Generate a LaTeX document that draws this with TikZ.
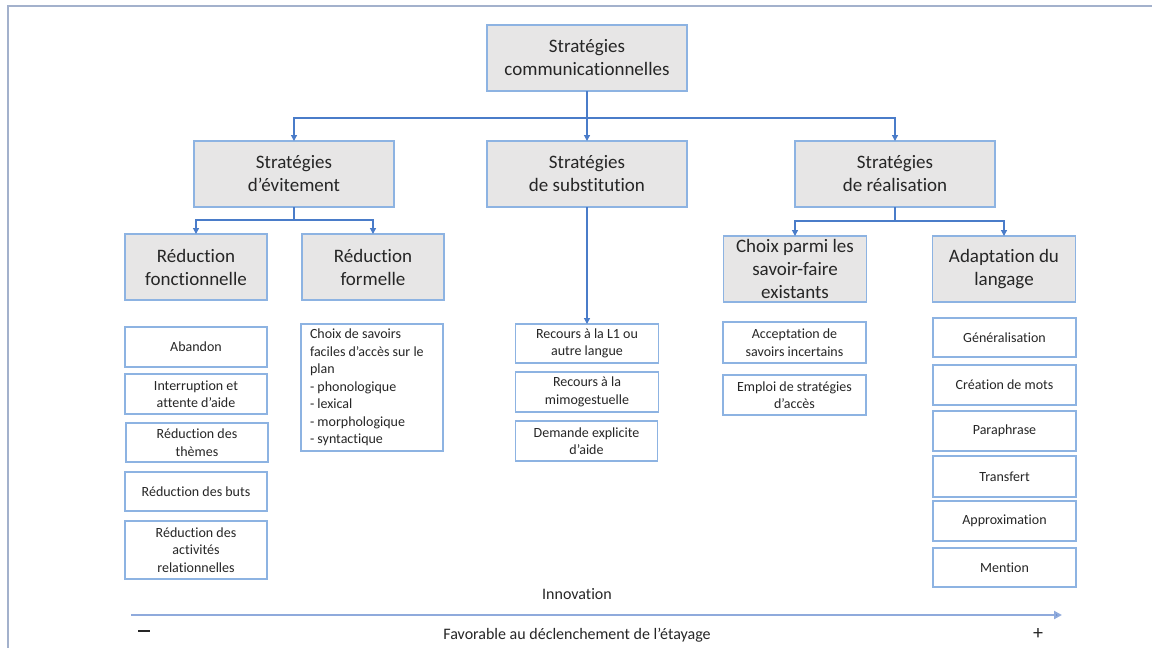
\documentclass[tikz,border=0pt]{standalone}
\usepackage{fontspec}
\setmainfont{Carlito}[Ligatures={NoCommon}]
\usetikzlibrary{arrows.meta}
\definecolor{boxline}{HTML}{8DB3E2}
\definecolor{boxfill}{HTML}{E7E6E6}
\definecolor{conncol}{HTML}{4A7CC9}
\definecolor{axiscol}{HTML}{8FAADC}
\definecolor{framecol}{HTML}{A3B1CC}
\definecolor{txt}{HTML}{262626}
\tikzset{
  bigbox/.style={draw=boxline, fill=boxfill, line width=1.3pt, inner sep=0pt, outer sep=0pt, align=center, text=txt, font=\fontsize{19}{23}\selectfont},
  smallbox/.style={draw=boxline, fill=white, line width=1.3pt, inner sep=0pt, outer sep=0pt, align=center, text=txt, font=\fontsize{14}{17.5}\selectfont},
  conn/.style={draw=conncol, line width=1.3pt},
  arr/.style={conn, -{Triangle[length=6pt,width=6pt]}},
  lbl/.style={text=txt, inner sep=0pt, font=\fontsize{16}{19}\selectfont}
}
\begin{document}
\begin{tikzpicture}[x=1pt,y=-1pt]
\useasboundingbox (0,0) rectangle (1152,648);
\fill[white] (0,0) rectangle (1152,648);
\draw[framecol, line width=2pt] (8,648) -- (8,6) -- (1152,6);

% level 1
\node[bigbox, minimum width=200, minimum height=66] (top) at (587,58) {Stratégies\\communicationnelles};
% level 2
\node[bigbox, minimum width=200, minimum height=66] (evit) at (294,174) {Stratégies\\d’évitement};
\node[bigbox, minimum width=200, minimum height=66] (subst) at (587,174) {Stratégies\\de substitution};
\node[bigbox, minimum width=200, minimum height=66] (real) at (895,174) {Stratégies\\de réalisation};
% level 3
\node[bigbox, minimum width=142, minimum height=66] (rfonc) at (196,267) {Réduction\\fonctionnelle};
\node[bigbox, minimum width=142, minimum height=66] (rform) at (373,267) {Réduction\\formelle};
\node[bigbox, minimum width=143, minimum height=66] (choix) at (795,269) {Choix parmi les\\savoir-faire\\existants};
\node[bigbox, minimum width=143, minimum height=66] (adapt) at (1004,269) {Adaptation du\\langage};

% connectors
\coordinate (j1) at (587,118);
\coordinate (j2) at (294,220);
\coordinate (j3) at (895,221);
\draw[conn] (top.south) -- (j1);
\draw[arr] (j1) -| (evit.north);
\draw[arr] (j1) -| (real.north);
\draw[arr] (j1) -- (subst.north);
\draw[conn] (evit.south) -- (j2);
\draw[arr] (j2) -| (rfonc.north);
\draw[arr] (j2) -| (rform.north);
\draw[conn] (real.south) -- (j3);
\draw[arr] (j3) -| (choix.north);
\draw[arr] (j3) -| (adapt.north);

% left column
\node[smallbox, minimum width=142, minimum height=40] (aban) at (196,347) {Abandon};
\node[smallbox, minimum width=142, minimum height=40] (inter) at (196,394) {Interruption et\\attente d’aide};
\node[smallbox, minimum width=142, minimum height=39] (theme) at (197,442.5) {Réduction des\\thèmes};
\node[smallbox, minimum width=142, minimum height=39] (buts) at (196,491.5) {Réduction des buts};
\node[smallbox, minimum width=142, minimum height=58] (activ) at (196,550) {Réduction des\\activités\\relationnelles};
\node[smallbox, minimum width=142, minimum height=127, text width=124, inner xsep=9pt, align=flush left] (savoirs) at (372,387.5) {Choix de savoirs\\faciles d’accès sur le\\plan\\- phonologique\\- lexical\\- morphologique\\- syntactique};

% middle column
\node[smallbox, minimum width=143, minimum height=39] (l1) at (587,343.5) {Recours à la L1 ou\\autre langue};
\node[smallbox, minimum width=143, minimum height=40] (mimo) at (587,392) {Recours à la\\mimogestuelle};
\node[smallbox, minimum width=142, minimum height=40] (dem) at (586.5,441) {Demande explicite\\d’aide};
\draw[arr] (subst.south) -- (l1.north);

% right columns
\node[smallbox, minimum width=143, minimum height=41] (accep) at (794.5,342.5) {Acceptation de\\savoirs incertains};
\node[smallbox, minimum width=143, minimum height=40] (emploi) at (794.5,395) {Emploi de stratégies\\d’accès};
\node[smallbox, minimum width=143, minimum height=39] (gen) at (1004.5,337.5) {Généralisation};
\node[smallbox, minimum width=143, minimum height=40] (crea) at (1004.5,385) {Création de mots};
\node[smallbox, minimum width=143, minimum height=40] (para) at (1004.5,431) {Paraphrase};
\node[smallbox, minimum width=143, minimum height=41] (transf) at (1004.5,476.5) {Transfert};
\node[smallbox, minimum width=143, minimum height=40] (approx) at (1004.5,521) {Approximation};
\node[smallbox, minimum width=143, minimum height=39] (ment) at (1004.5,567.5) {Mention};

% bottom axis
\node[lbl] (innov) at (577,594) {Innovation};
\coordinate (a0) at (131,615);
\coordinate (a1) at (1062,615);
\draw[draw=axiscol, line width=2pt, -{Triangle[length=8pt,width=8pt,fill=conncol]}] (a0) -- (a1);
\node[inner sep=0pt, text=txt] (minus) at (144,631) {\rule{12pt}{1.8pt}};
\node[inner sep=0pt, text=txt, font=\fontsize{20}{20}\selectfont] (plus) at (1038,634) {+};
\node[lbl] (fav) at (577,635) {Favorable au déclenchement de l’étayage};
\end{tikzpicture}
\end{document}
